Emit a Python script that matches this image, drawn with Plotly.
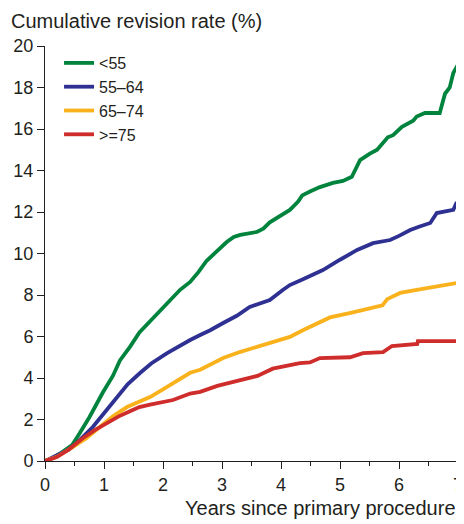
import plotly.graph_objects as go

# ---- data ----
series_names = ["<55", "55\u201364", "65\u201374", ">=75"]
series_colors = ["#00843D", "#2E3192", "#F9B21C", "#CF2C2C"]

green_x = [0, 0.1, 0.25, 0.46, 0.59, 0.75, 0.98, 1.15, 1.27, 1.44, 1.6, 1.75, 1.9, 2.07, 2.29,
           2.46, 2.6, 2.74, 2.9, 3.08, 3.2, 3.31, 3.59, 3.7, 3.81, 4.03, 4.15, 4.29, 4.36, 4.5,
           4.66, 4.88, 5.05, 5.2, 5.34, 5.5, 5.63, 5.81, 5.9, 6.05, 6.24, 6.3, 6.44, 6.69, 6.73,
           6.78, 6.86, 6.92, 7.0]
green_y = [0, 0.1, 0.35, 0.77, 1.35, 2.1, 3.3, 4.1, 4.85, 5.5, 6.2, 6.65, 7.1, 7.65, 8.25,
           8.63, 9.1, 9.65, 10.1, 10.55, 10.8, 10.9, 11.04, 11.2, 11.5, 11.86, 12.1, 12.5, 12.8, 13.0,
           13.2, 13.4, 13.5, 13.7, 14.5, 14.8, 15.0, 15.6, 15.7, 16.1, 16.4, 16.6, 16.77, 16.77, 17.2,
           17.7, 18.0, 18.7, 19.1]

blue_x = [0, 0.2, 0.4, 0.54, 0.65, 0.81, 1.0, 1.22, 1.4, 1.61, 1.8, 2.07, 2.25, 2.46, 2.63,
          2.8, 3.02, 3.25, 3.47, 3.65, 3.81, 4.03, 4.15, 4.4, 4.71, 5.0, 5.29, 5.56, 5.85, 6.0,
          6.19, 6.35, 6.53, 6.64, 6.92, 6.98]
blue_y = [0, 0.25, 0.55, 0.87, 1.2, 1.64, 2.3, 3.08, 3.7, 4.24, 4.7, 5.2, 5.5, 5.83, 6.07,
          6.3, 6.65, 7.0, 7.42, 7.6, 7.76, 8.24, 8.48, 8.8, 9.2, 9.7, 10.17, 10.5, 10.65, 10.85,
          11.13, 11.3, 11.47, 11.95, 12.1, 12.48]

orange_x = [0, 0.2, 0.47, 0.7, 0.93, 1.15, 1.39, 1.6, 1.78, 2.0, 2.17, 2.46, 2.63, 3.02, 3.3,
            3.59, 3.85, 4.15, 4.37, 4.49, 4.66, 4.83, 5.2, 5.56, 5.72, 5.8, 6.02, 6.3, 6.47, 6.75,
            6.98]
orange_y = [0, 0.2, 0.67, 1.1, 1.64, 2.15, 2.6, 2.85, 3.08, 3.45, 3.76, 4.25, 4.4, 4.96, 5.25,
            5.49, 5.75, 5.98, 6.3, 6.46, 6.65, 6.92, 7.15, 7.37, 7.5, 7.8, 8.1, 8.25, 8.34, 8.45,
            8.58]

red_x = [0, 0.2, 0.4, 0.64, 0.85, 1.05, 1.25, 1.44, 1.6, 1.78, 2.0, 2.17, 2.46, 2.63, 2.92,
         3.1, 3.36, 3.6, 3.86, 4.1, 4.32, 4.49, 4.66, 5.17, 5.39, 5.73, 5.88, 6.31, 6.32, 7.0]
red_y = [0, 0.19, 0.55, 1.1, 1.5, 1.83, 2.15, 2.4, 2.6, 2.72, 2.85, 2.94, 3.25, 3.33, 3.62,
         3.75, 3.9, 4.1, 4.45, 4.6, 4.72, 4.75, 4.96, 5.0, 5.2, 5.25, 5.54, 5.64, 5.78, 5.78]

y_ticks = [0, 2, 4, 6, 8, 10, 12, 14, 16, 18, 20]
x_ticks = [0, 1, 2, 3, 4, 5, 6, 7]

FONT = "Liberation Sans, Arial, Helvetica, sans-serif"
TXT = "#231F20"

fig = go.Figure()
for name, col, xs, ys in zip(series_names, series_colors,
                             [green_x, blue_x, orange_x, red_x],
                             [green_y, blue_y, orange_y, red_y]):
    fig.add_trace(go.Scatter(x=xs, y=ys, mode="lines", name=name,
                             line=dict(color=col, width=3.8)))

# the page body has an 8px default margin, so the figure is 8px smaller than the window
fig.update_layout(
    width=456, height=516,
    margin=dict(l=37, r=6, t=38, b=63),
    paper_bgcolor="white", plot_bgcolor="white",
    font=dict(family=FONT, size=18, color=TXT),
    showlegend=True,
    legend=dict(x=0.034, y=1.0, xanchor="left", yanchor="top",
                font=dict(size=16, color=TXT), bgcolor="rgba(0,0,0,0)",
                tracegroupgap=0, itemwidth=30),
    xaxis=dict(range=[0, 7], tickvals=x_ticks, ticks="outside", ticklen=7,
               tickcolor=TXT, showline=True, linecolor=TXT, linewidth=1,
               showgrid=False, zeroline=False, tickfont=dict(size=18, color=TXT),
               automargin=False,
               minor=dict(dtick=0.5, ticks="outside", ticklen=4, tickcolor=TXT, showgrid=False)),
    yaxis=dict(range=[0, 20], tickvals=y_ticks, ticks="outside", ticklen=7,
               tickcolor=TXT, showline=True, linecolor=TXT, linewidth=1,
               showgrid=False, zeroline=False, tickfont=dict(size=18, color=TXT),
               automargin=False),
    annotations=[
        dict(text="Cumulative revision rate (%)", xref="paper", yref="paper",
             x=-36/413, y=1 + 25/415, xanchor="left", yanchor="middle",
             showarrow=False, font=dict(size=20, color=TXT)),
        dict(text="Years since primary procedure", xref="paper", yref="paper",
             x=1.0, y=-47/415, xanchor="right", yanchor="middle",
             showarrow=False, font=dict(size=20, color=TXT)),
    ],
)

fig.write_html("out.html")
